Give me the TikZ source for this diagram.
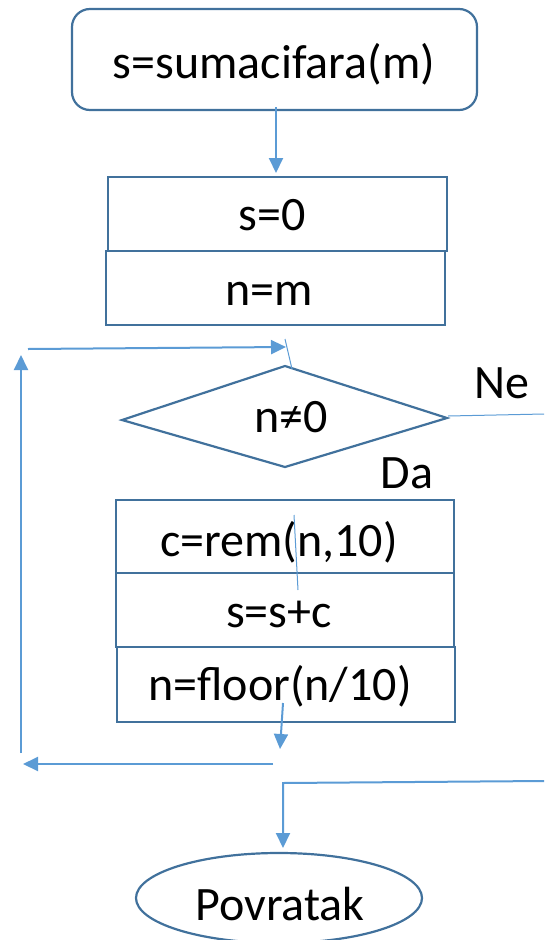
\documentclass[tikz,border=0pt]{standalone}
\usepackage{fontspec}
\setmainfont{Carlito}
\usetikzlibrary{arrows.meta,shapes.geometric}
\definecolor{edge}{HTML}{41719C}
\definecolor{flow}{HTML}{5B9BD5}
\tikzset{
  box/.style={draw=edge,line width=2.2pt,rectangle,inner sep=0pt},
  label/.style={anchor=base,inner sep=0pt,font=\fontsize{48}{57}\selectfont},
  flowline/.style={draw=flow,line width=2pt},
  arr/.style={flowline,-{Triangle[length=15pt,width=14pt]}},
  thin/.style={draw=flow,line width=1pt},
}
\begin{document}
\begin{tikzpicture}[x=1pt,y=-1pt]
\useasboundingbox (0,0) rectangle (544,940);

% start block
\node[box,rounded corners=18pt,minimum width=405pt,minimum height=101pt] (start) at (274.5,59.5) {};
\node[label] (tstart) at (274,78) {s=sumacifara(m)};

% initialisation
\node[box,minimum width=339pt,minimum height=74pt] (init1) at (277.5,214) {};
\node[label] (tinit1) at (272,230) {s=0};
\node[box,minimum width=339pt,minimum height=74pt] (init2) at (275.5,288) {};
\node[label] (tinit2) at (269,305) {n=m};

% loop condition
\coordinate (dl) at (122,420);
\coordinate (dr) at (447,418);
\coordinate (dt) at (285,366);
\coordinate (db) at (285,467);
\draw[edge,line width=2.2pt,line join=miter] (dl) -- (dt) -- (dr) -- (db) -- cycle;
\node[label] (tcond) at (291,432) {n≠0};
\node[label] (tne) at (502,398) {Ne};
\node[label] (tda) at (407,488) {Da};

% loop body
\node[box,minimum width=338pt,minimum height=73pt] (body1) at (285,536.5) {};
\node[label] (tbody1) at (279,556) {c=rem(n,10)};
\node[box,minimum width=338pt,minimum height=74pt] (body2) at (285,610) {};
\node[label] (tbody2) at (279,627) {s=s+c};
\node[box,minimum width=338pt,minimum height=75pt] (body3) at (286,684.5) {};
\node[label] (tbody3) at (280,700) {n=floor(n/10)};

% end block
\node[draw=edge,line width=2.2pt,ellipse,minimum width=286pt,minimum height=90pt,inner sep=0pt] (stop) at (279,898) {};
\node[label] (tstop) at (280,920) {Povratak};

% connectors
\coordinate (a1) at (276,107);
\coordinate (a2) at (276,173);
\draw[arr] (a1) -- (a2);

\coordinate (loopin) at (28,349);
\coordinate (looptip) at (286,347);
\draw[arr] (loopin) -- (looptip);
\coordinate (s1) at (285,339);
\coordinate (s2) at (292,369);
\draw[thin] (s1) -- (s2);

\coordinate (neA) at (448,416);
\coordinate (neB) at (544,414);
\draw[thin] (neA) -- (neB);

\coordinate (b1) at (294,515);
\coordinate (b2) at (298,590);
\draw[thin] (b1) -- (b2);

\coordinate (c1) at (283,703);
\coordinate (c2) at (280,749);
\draw[arr] (c1) -- (c2);

\coordinate (back1) at (273,764);
\coordinate (back2) at (23,764);
\draw[arr] (back1) -- (back2);

\coordinate (up1) at (21,753);
\coordinate (up2) at (21,355);
\draw[arr] (up1) -- (up2);

\coordinate (ex1) at (544,781);
\coordinate (ex2) at (283,783);
\coordinate (ex3) at (283,848);
\draw[arr] (ex1) -- (ex2) -- (ex3);
\end{tikzpicture}
\end{document}
